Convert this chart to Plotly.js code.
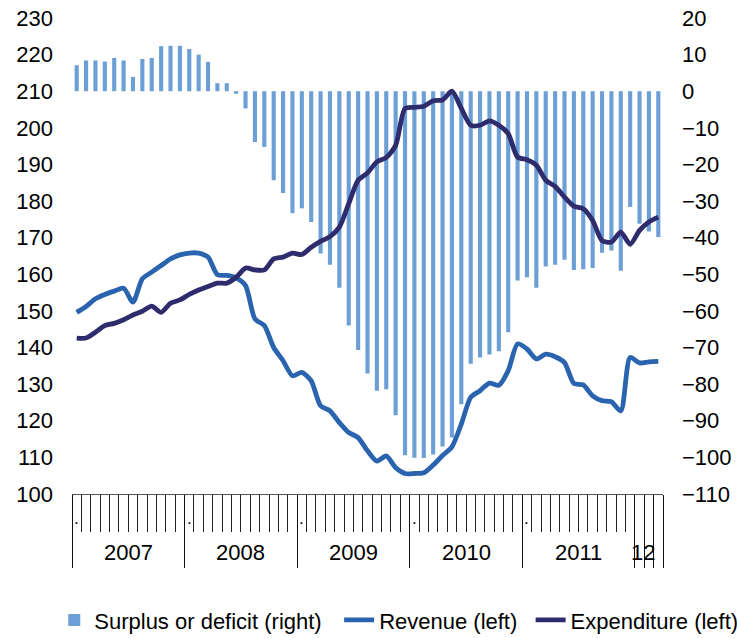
<!DOCTYPE html>
<html>
<head>
<meta charset="utf-8">
<script src="https://cdn.plot.ly/plotly-3.0.1.min.js"></script>
<style>html,body{margin:0;padding:0;background:#fff;}#chart{width:737px;height:638px;}</style>
</head>
<body>
<div id="chart"></div>
<script>
// Year groups on the category axis (monthly data, Jan 2007 - Mar 2012)
var yearLabels = ['2007', '2008', '2009', '2010', '2011', '12'];
var monthsPerYear = [12, 12, 12, 12, 12, 3];

// Surplus or deficit (right axis)
var surplus = [7.1, 8.4, 8.4, 8.1, 9.1, 8.4, 3.9, 8.8, 9.1, 12.3, 12.4, 12.4,
  11.5, 10.0, 8.0, 2.2, 2.2, -0.7, -4.7, -13.9, -15.2, -24.3, -27.8, -33.3,
  -32.0, -35.7, -44.3, -47.4, -53.7, -64.0, -70.7, -77.1, -81.8, -81.4, -88.5, -99.4,
  -100.1, -100.2, -99.2, -97.0, -94.6, -85.5, -74.4, -72.7, -71.9, -71.0, -65.8, -51.7,
  -50.8, -53.7, -47.9, -47.4, -46.0, -48.8, -48.6, -48.3, -44.1, -43.5, -49.0, -31.6,
  -36.2, -38.3, -39.8];

// Revenue (left axis)
var revenue = [149.6, 151.2, 153.3, 154.5, 155.4, 156.2, 152.4, 158.8, 160.6, 162.4, 164.2, 165.3,
  165.8, 165.8, 164.7, 159.9, 159.7, 159.0, 156.9, 147.8, 146.0, 140.0, 136.4, 132.3,
  133.2, 130.9, 124.1, 122.7, 119.5, 116.8, 115.4, 111.8, 109.0, 110.4, 107.2, 105.6,
  105.6, 105.8, 107.9, 110.5, 112.9, 119.1, 126.4, 128.2, 130.3, 129.7, 133.7, 141.0,
  139.6, 136.9, 138.2, 137.5, 135.9, 130.2, 129.8, 126.8, 125.5, 125.2, 122.7, 137.3,
  135.8, 136.1, 136.2];

// Expenditure (left axis)
var expenditure = [142.6, 142.6, 144.2, 146.0, 146.6, 147.6, 148.9, 149.9, 151.3, 149.6, 152.1, 153.0,
  154.5, 155.7, 156.7, 157.6, 157.6, 159.2, 161.7, 161.2, 161.2, 164.2, 164.7, 165.8,
  165.4, 167.4, 169.0, 170.3, 172.9, 179.3, 185.7, 187.7, 190.7, 191.9, 195.2, 205.3,
  205.6, 205.9, 207.4, 207.6, 210.0, 205.3, 200.7, 200.7, 201.9, 200.7, 198.4, 192.0,
  191.3, 189.8, 185.7, 184.0, 181.1, 178.6, 177.9, 174.7, 169.2, 168.8, 171.5, 168.2,
  172.0, 174.3, 175.6];

var leftTicks = [100, 110, 120, 130, 140, 150, 160, 170, 180, 190, 200, 210, 220, 230];
var rightTicks = [-110, -100, -90, -80, -70, -60, -50, -40, -30, -20, -10, 0, 10, 20];

// Build category positions
var x = surplus.map(function (_, i) { return i; });
var n = x.length;
var monthBounds = [];
for (var i = 0; i <= n; i++) monthBounds.push(i - 0.5);
var yearStarts = [], yearCenters = [], longBounds = [];
var s = 0;
monthsPerYear.forEach(function (m, k) {
  yearStarts.push(s);
  yearCenters.push(s + m / 2 - 0.5);
  if (m === 12) { longBounds.push(s - 0.5); }
  else { for (var j = 0; j <= m; j++) longBounds.push(s - 0.5 + j); }
  s += m;
});
longBounds.push(n - 0.5);

var FONT = 'Liberation Sans, Arial, sans-serif';
var FS = 22;

var traces = [
  { type: 'bar', x: x, y: surplus, name: 'Surplus or deficit (right)', xaxis: 'x', yaxis: 'y',
    legend: 'legend', marker: { color: '#6c9fd6', line: { width: 0 } } },
  { type: 'scatter', mode: 'lines', x: x, y: revenue, name: 'Revenue (left)', xaxis: 'x', yaxis: 'y2',
    legend: 'legend2', line: { color: '#2a63ae', width: 4.8, shape: 'spline', smoothing: 0.7 } },
  { type: 'scatter', mode: 'lines', x: x, y: expenditure, name: 'Expenditure (left)', xaxis: 'x', yaxis: 'y2',
    legend: 'legend3', line: { color: '#2e2c6c', width: 4.8, shape: 'spline', smoothing: 0.7 } },
  { type: 'scatter', mode: 'lines', x: [], y: [], xaxis: 'x2', yaxis: 'y', showlegend: false, hoverinfo: 'skip' }
];

var annotations = [];
yearLabels.forEach(function (lab, k) {
  annotations.push({ text: lab, x: yearCenters[k] - (monthsPerYear[k] < 12 ? 0.6 : 0), xref: 'x', y: -0.122, yref: 'paper',
    xanchor: 'center', yanchor: 'middle', showarrow: false, font: { family: FONT, size: FS, color: '#000' } });
  if (monthsPerYear[k] === 12) {
    annotations.push({ text: '.', x: yearStarts[k], xref: 'x', y: -0.076, yref: 'paper',
      xanchor: 'center', yanchor: 'bottom', showarrow: false, font: { family: FONT, size: 17, color: '#000' } });
  }
});

function legendAt(xp) {
  return {
    orientation: 'h', x: xp, xanchor: 'left', y: -0.265, yanchor: 'middle',
    font: { family: FONT, size: FS, color: '#000' }, bgcolor: 'rgba(0,0,0,0)',
    itemwidth: 30, tracegroupgap: 0
  };
}

var layout = {
  width: 737, height: 638,
  margin: { l: 72, r: 74, t: 18, b: 144, autoexpand: false },
  paper_bgcolor: '#fff', plot_bgcolor: '#fff',
  font: { family: FONT, size: FS, color: '#000' },
  showlegend: true,
  bargap: 0.56,
  xaxis: {
    range: [-0.5, n - 0.5], showgrid: false, zeroline: false,
    showline: true, linecolor: '#555', linewidth: 1,
    tickmode: 'array', tickvals: monthBounds, showticklabels: false,
    ticks: 'outside', ticklen: 37, tickwidth: 1, tickcolor: '#222'
  },
  xaxis2: {
    overlaying: 'x', anchor: 'y', side: 'bottom',
    range: [-0.5, n - 0.5], showgrid: false, zeroline: false, showline: false,
    tickmode: 'array', tickvals: longBounds, showticklabels: false,
    ticks: 'outside', ticklen: 73, tickwidth: 1, tickcolor: '#111'
  },
  yaxis: {
    side: 'right', range: [-110, 20], tickmode: 'array', tickvals: rightTicks,
    showgrid: false, zeroline: false, showline: false, ticks: '',
    ticklabelstandoff: 18, tickfont: { family: FONT, size: FS, color: '#000' }
  },
  yaxis2: {
    side: 'left', overlaying: 'y', range: [100, 230], tickmode: 'array', tickvals: leftTicks,
    showgrid: false, zeroline: false, showline: false, ticks: '',
    ticklabelstandoff: 18, tickfont: { family: FONT, size: FS, color: '#000' }
  },
  legend: legendAt(-0.03),
  legend2: legendAt(0.452),
  legend3: legendAt(0.776),
  annotations: annotations
};

Plotly.newPlot('chart', traces, layout, { staticPlot: true, displayModeBar: false });
</script>
</body>
</html>
